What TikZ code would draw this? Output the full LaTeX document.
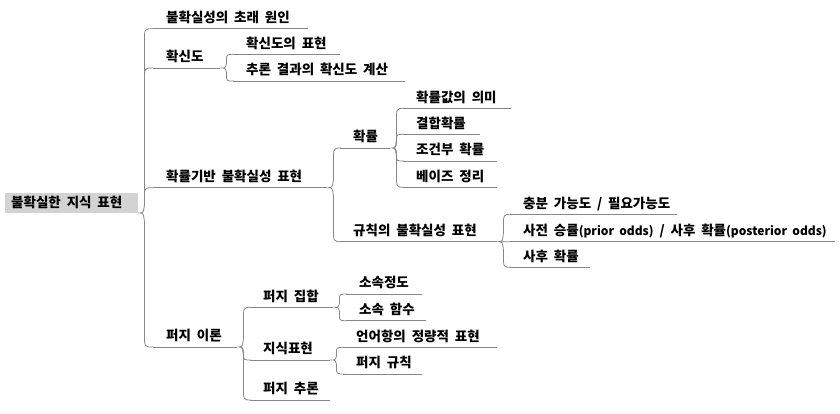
\documentclass[tikz,border=0pt]{standalone}
\usepackage{fontspec}
\setmainfont{Noto Sans CJK KR}[WordSpace=1.9]
\usetikzlibrary{calc}
\definecolor{linegray}{RGB}{135,135,135}
\definecolor{rootgray}{RGB}{211,211,211}
\newcommand\mmbox[2]{\makebox[#1pt][l]{\hspace{13pt}#2}}
\newcommand\lat[1]{{\fontsize{12}{13}\selectfont #1}}
\tikzset{
  ul/.style={draw=linegray, line width=0.8pt},
  item/.style={anchor=south west, inner xsep=0pt, inner ysep=6pt, text height=10pt, text depth=0pt,
    font=\fontsize{13.5}{15}\selectfont\bfseries,
    append after command={(\tikzlastnode.south west) edge[ul] (\tikzlastnode.south east)}},
  rootnode/.style={anchor=south west, fill=rootgray, inner xsep=0pt, inner ysep=5.5pt, text height=9pt, text depth=0pt,
    font=\fontsize{13.5}{15}\selectfont\bfseries},
  branch/.style={draw=linegray, line width=0.8pt,
    to path={let \p1=(\tikztostart), \p2=(\tikztotarget), \n1={sign(\y2-\y1)}, \n2={min(abs(\y2-\y1)/2,14)} in
      (\tikztostart) .. controls ({\x1+5pt},\y1) .. ({\x1+6pt},{\y1+\n1*0.6*\n2})
      -- ({\x1+6pt},{\y2-\n1*\n2}) .. controls ({\x1+6pt},\y2) .. ({\x1+14pt},\y2) -- (\tikztotarget)}}
}
\begin{document}
\begin{tikzpicture}[x=1pt,y=-1pt]
\useasboundingbox (0,0) rectangle (840,413);
\node[rootnode] (root) at (5,213) {\makebox[133pt][l]{\hspace{6pt}불확실한 지식 표현}};
\node[item] (A) at (153,28.7) {\mmbox{155}{불확실성의 초래 원인}};
\node[item] (B) at (153,68) {\mmbox{67}{확신도}};
\node[item] (B1) at (233,54.3) {\mmbox{107}{확신도의 표현}};
\node[item] (B2) at (233,81) {\mmbox{172}{추론 결과의 확신도 계산}};
\node[item] (C) at (153,187.7) {\mmbox{174}{확률기반 불확실성 표현}};
\node[item] (C1) at (340,148) {\mmbox{50}{확률}};
\node[item] (C2) at (340,241.7) {\mmbox{157}{규칙의 불확실성 표현}};
\node[item] (C11) at (403,108.3) {\mmbox{108}{확률값의 의미}};
\node[item] (C12) at (403,134.3) {\mmbox{77}{결합확률}};
\node[item] (C13) at (403,161) {\mmbox{94}{조건부 확률}};
\node[item] (C14) at (403,187.3) {\mmbox{94}{베이즈 정리}};
\node[item] (C21) at (510,214.3) {\mmbox{167}{충분 가능도 / 필요가능도}};
\node[item] (C22) at (510,241.7) {\mmbox{325}{사전 승률\lat{(prior odds)} / 사후 확률\lat{(posterior odds)}}};
\node[item] (C23) at (510,267.3) {\mmbox{80}{사후 확률}};
\node[item] (D) at (153,347) {\mmbox{84}{퍼지 이론}};
\node[item] (D1) at (250,307.3) {\mmbox{83}{퍼지 집합}};
\node[item] (D2) at (250,360) {\mmbox{80}{지식표현}};
\node[item] (D3) at (250,400) {\mmbox{80}{퍼지 추론}};
\node[item] (D11) at (346,294) {\mmbox{76}{소속정도}};
\node[item] (D12) at (346,320.7) {\mmbox{80}{소속 함수}};
\node[item] (D21) at (343,347.3) {\mmbox{154}{언어항의 정량적 표현}};
\node[item] (D22) at (343,374) {\mmbox{79}{퍼지 규칙}};
\draw[branch] (root.south east) to (A.south west) (root.south east) to (B.south west)
  (root.south east) to (C.south west) (root.south east) to (D.south west);
\draw[branch] (B.south east) to (B1.south west) (B.south east) to (B2.south west);
\draw[branch] (C.south east) to (C1.south west) (C.south east) to (C2.south west);
\draw[branch] (C1.south east) to (C11.south west) (C1.south east) to (C12.south west)
  (C1.south east) to (C13.south west) (C1.south east) to (C14.south west);
\draw[branch] (C2.south east) to (C21.south west) (C2.south east) to (C22.south west)
  (C2.south east) to (C23.south west);
\draw[branch] (D.south east) to (D1.south west) (D.south east) to (D2.south west)
  (D.south east) to (D3.south west);
\draw[branch] (D1.south east) to (D11.south west) (D1.south east) to (D12.south west);
\draw[branch] (D2.south east) to (D21.south west) (D2.south east) to (D22.south west);
\end{tikzpicture}
\end{document}
